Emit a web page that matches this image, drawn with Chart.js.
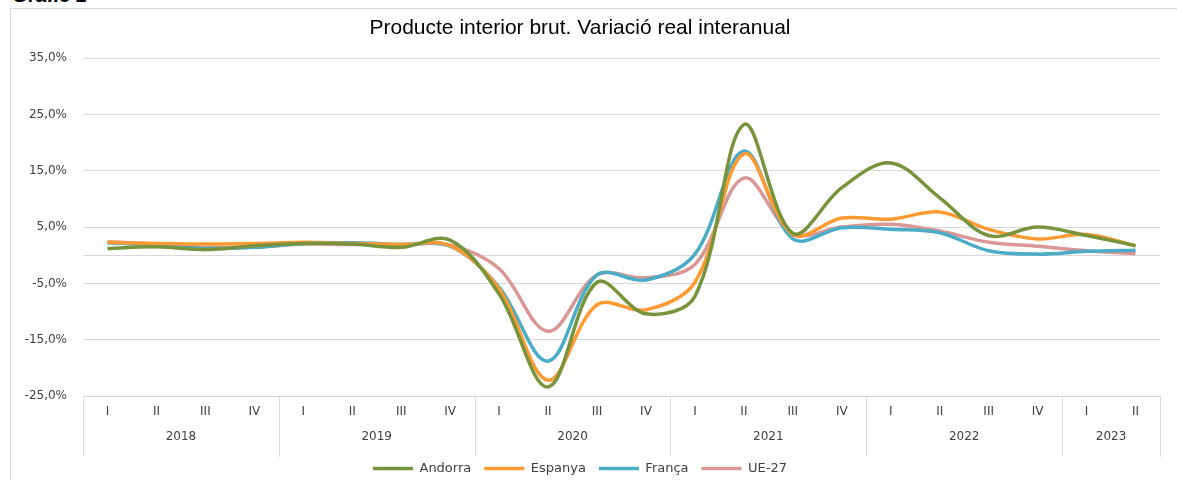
<!DOCTYPE html>
<html lang="ca">
  <head>
    <meta charset="UTF-8" />
    <title>PIB variació interanual</title>
    <script src="https://cdn.jsdelivr.net/npm/chart.js"></script>
    <style>
      html, body { margin: 0; padding: 0; background: #fff; overflow: hidden; }
      #wrap { position: relative; width: 1177px; height: 480px; }
      #frame { position: absolute; left: 10px; top: 8px; width: 1200px; height: 500px; border: 1px solid #d9d9d9; }
      #caption { position: absolute; left: 12px; top: -15px; font: bold 20px "Liberation Sans", Arial, sans-serif; line-height: 20px; color: #000; }
      #chart { position: absolute; left: 0; top: 0; }
    </style>
  </head>
  <body>
    <div id="wrap">
      <div id="frame"></div>
      <div id="caption">Gràfic 1</div>
      <canvas id="chart" width="1177" height="480"></canvas>
    </div>
    <script>
      const quarters = ["I", "II", "III", "IV", "I", "II", "III", "IV", "I", "II", "III", "IV",
                        "I", "II", "III", "IV", "I", "II", "III", "IV", "I", "II"];
      const years = ["2018", "2019", "2020", "2021", "2022", "2023"];
      const yearSpans = [4, 4, 4, 4, 4, 2];

      const andorra = [1.2, 1.5, 1.0, 1.7, 2.1, 2.0, 1.4, 2.7, -6.9, -23.4, -4.8, -10.4,
                       -7.3, 23.2, 3.9, 12.0, 16.4, 10.2, 3.5, 5.0, 3.5, 1.7];
      const espanya = [2.3, 2.1, 2.0, 2.1, 2.3, 2.1, 1.9, 1.7, -6.0, -22.2, -8.8, -9.7,
                       -4.8, 18.0, 3.7, 6.6, 6.4, 7.7, 4.6, 2.9, 3.7, 1.7];
      const franca = [2.2, 1.8, 1.2, 1.4, 2.1, 2.2, 1.9, 1.6, -5.7, -18.8, -3.5, -4.4,
                      0.2, 18.5, 2.9, 4.9, 4.6, 4.0, 0.8, 0.2, 0.7, 0.9];
      const ue27 = [2.4, 2.0, 1.4, 1.4, 2.0, 1.9, 1.9, 1.8, -2.4, -13.5, -3.5, -4.0,
                    -1.6, 13.7, 3.8, 5.0, 5.5, 4.3, 2.3, 1.6, 0.8, 0.3];

      const tickFont = { family: "DejaVu Sans", size: 12 };
      const textColor = "#404040";
      const gridColor = "#d9d9d9";

      // year row under the quarter labels, with separators between years
      const yearBands = {
        id: "yearBands",
        afterDraw(chart) {
          const { ctx, chartArea, scales: { x } } = chart;
          const half = (x.getPixelForValue(1) - x.getPixelForValue(0)) / 2;
          const top = chartArea.bottom;
          const bottom = top + 61;
          ctx.save();
          ctx.strokeStyle = gridColor;
          ctx.lineWidth = 1;
          ctx.fillStyle = textColor;
          ctx.font = '12px "DejaVu Sans"';
          ctx.textAlign = "center";
          ctx.textBaseline = "middle";
          let start = 0;
          years.forEach((y, i) => {
            const end = start + yearSpans[i];
            const x0 = x.getPixelForValue(start) - half;
            const x1 = x.getPixelForValue(end - 1) + half;
            ctx.beginPath();
            ctx.moveTo(Math.round(x0) + 0.5, top);
            ctx.lineTo(Math.round(x0) + 0.5, bottom);
            if (i === years.length - 1) {
              ctx.moveTo(Math.round(x1) + 0.5, top);
              ctx.lineTo(Math.round(x1) + 0.5, bottom);
            }
            ctx.stroke();
            ctx.fillText(y, (x0 + x1) / 2, top + 41);
            start = end;
          });
          ctx.restore();
        }
      };

      const line = (label, data, color) => ({
        label, data,
        borderColor: color,
        backgroundColor: color,
        borderWidth: 3.5,
        pointRadius: 0,
        tension: 0.35,
        fill: false
      });

      new Chart(document.getElementById("chart"), {
        type: "line",
        data: {
          labels: quarters,
          datasets: [
            line("Andorra", andorra, "#77933c"),
            line("Espanya", espanya, "#ff9a33"),
            line("França", franca, "#4bacc6"),
            line("UE-27", ue27, "#d99795")
          ]
        },
        plugins: [yearBands],
        options: {
          responsive: false,
          animation: false,
          layout: { padding: { top: 16, left: 0, right: 17, bottom: -5 } },
          plugins: {
            title: {
              display: true,
              text: "Producte interior brut. Variació real interanual",
              color: "#000",
              font: { family: "Liberation Sans", size: 21, weight: "normal" },
              padding: { top: 0, bottom: 17 }
            },
            legend: {
              position: "bottom",
              labels: {
                usePointStyle: true,
                pointStyle: "line",
                pointStyleWidth: 40,
                color: textColor,
                font: { family: "DejaVu Sans", size: 13 },
                padding: 13
              }
            },
            tooltip: { enabled: false }
          },
          scales: {
            x: {
              offset: true,
              grid: { display: false, drawTicks: false },
              border: { display: false },
              ticks: { color: textColor, font: tickFont, padding: 9, maxRotation: 0, autoSkip: false },
              afterFit: (s) => { s.height = 53; }
            },
            y: {
              min: -25,
              max: 35,
              border: { display: false },
              grid: {
                drawTicks: false,
                lineWidth: 1,
                color: (c) => (c.tick.value % 10 !== 0 || c.tick.value === 0) ? gridColor : "rgba(0,0,0,0)"
              },
              ticks: {
                stepSize: 5,
                color: textColor,
                font: tickFont,
                padding: 16,
                callback: (v) => (v % 10 !== 0) ? v.toFixed(1).replace(".", ",") + "%" : ""
              },
              afterFit: (s) => { s.width = 83; }
            }
          }
        }
      });
    </script>
  </body>
</html>
